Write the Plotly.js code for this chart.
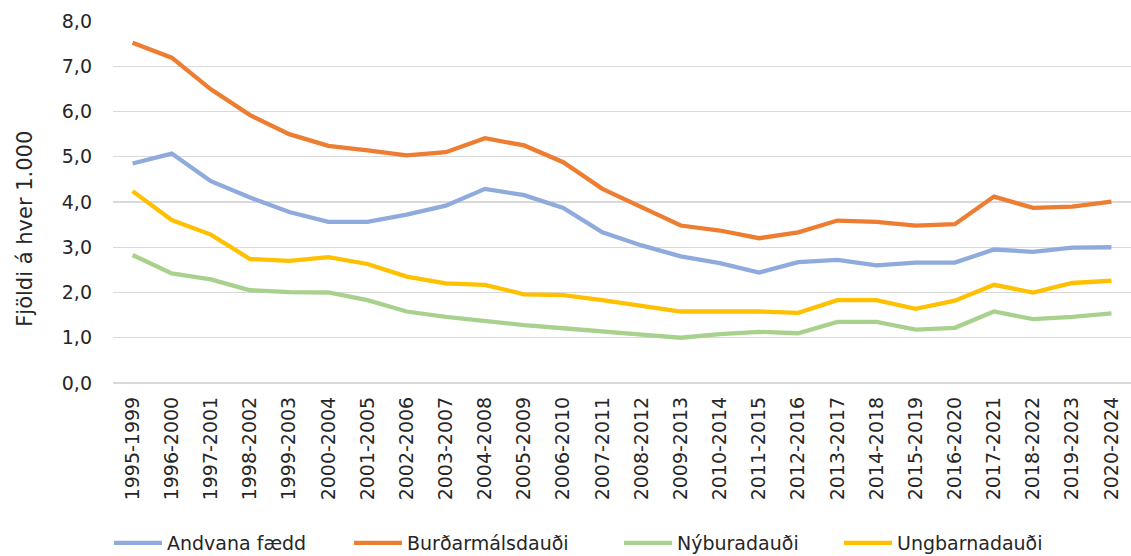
<!DOCTYPE html>
<html>
<head>
<meta charset="utf-8">
<script src="https://cdn.plot.ly/plotly-3.0.1.min.js"></script>
<style>
html,body{margin:0;padding:0;background:#fff;}
#chart{width:1131px;height:556px;}
</style>
</head>
<body>
<div id="chart"></div>
<script>
const categories = ["1995-1999","1996-2000","1997-2001","1998-2002","1999-2003","2000-2004","2001-2005","2002-2006","2003-2007","2004-2008","2005-2009","2006-2010","2007-2011","2008-2012","2009-2013","2010-2014","2011-2015","2012-2016","2013-2017","2014-2018","2015-2019","2016-2020","2017-2021","2018-2022","2019-2023","2020-2024"];

const andvanaFaedd = [4.85,5.07,4.46,4.10,3.78,3.56,3.56,3.72,3.92,4.29,4.15,3.87,3.33,3.04,2.80,2.65,2.44,2.67,2.72,2.60,2.66,2.66,2.95,2.90,2.99,3.00];
const burdarmalsdaudi = [7.52,7.19,6.49,5.92,5.50,5.24,5.14,5.03,5.10,5.41,5.25,4.88,4.29,3.89,3.48,3.37,3.20,3.33,3.59,3.56,3.48,3.51,4.12,3.87,3.90,4.01];
const nyburadaudi = [2.83,2.42,2.29,2.05,2.01,2.00,1.83,1.58,1.46,1.36,1.28,1.21,1.15,1.07,1.00,1.08,1.13,1.10,1.35,1.35,1.18,1.22,1.58,1.41,1.46,1.54];
const ungbarnadaudi = [4.24,3.60,3.28,2.74,2.70,2.78,2.63,2.35,2.20,2.17,1.96,1.94,1.83,1.71,1.58,1.58,1.58,1.55,1.83,1.83,1.64,1.82,2.17,2.00,2.21,2.26];

const seriesNames = ["Andvana fædd","Burðarmálsdauði","Nýburadauði","Ungbarnadauði"];
const seriesColors = ["#8FAADC","#ED7D31","#A9D18E","#FFC000"];
const seriesValues = [andvanaFaedd, burdarmalsdaudi, nyburadaudi, ungbarnadaudi];

const legendIds = ['legend', 'legend2', 'legend3', 'legend4'];
const legendLeft = [109, 349, 619, 839];

const traces = seriesValues.map((vals, i) => ({
  type: 'scatter',
  mode: 'lines',
  x: categories,
  y: vals,
  name: seriesNames[i],
  legend: legendIds[i],
  line: {color: seriesColors[i], width: 4.3}
}));

const FONT = '"DejaVu Sans", Verdana, sans-serif';
const PAD = '\u00a0'.repeat(8) + '\u200b';

const layout = {
  width: 1131,
  height: 556,
  separators: ',.',
  margin: {l: 113, r: 0, t: 21, b: 173},
  paper_bgcolor: '#fff',
  plot_bgcolor: '#fff',
  font: {family: FONT, size: 19, color: '#262626'},
  showlegend: true,
  xaxis: {
    type: 'category',
    automargin: false,
    tickangle: -90,
    showgrid: false,
    showline: false,
    zeroline: false,
    ticks: '',
    ticklabelstandoff: 9,
    tickfont: {family: FONT, size: 19, color: '#262626'},
    range: [-0.5, categories.length - 0.5]
  },
  yaxis: {
    automargin: false,
    range: [0, 8],
    dtick: 1,
    tick0: 0,
    tickformat: '.1f',
    showgrid: true,
    gridcolor: '#d9d9d9',
    gridwidth: 1.3,
    zeroline: true,
    zerolinecolor: '#d9d9d9',
    zerolinewidth: 1.3,
    showline: false,
    ticks: '',
    ticklabelstandoff: 20,
    tickfont: {family: FONT, size: 19, color: '#262626'},
    title: {text: 'Fjöldi á hver 1.000' + PAD, font: {family: FONT, size: 21, color: '#262626'}, standoff: 23}
  }
};

legendIds.forEach((id, i) => {
  layout[id] = {
    orientation: 'h',
    xref: 'container', yref: 'container',
    x: legendLeft[i] / 1131, xanchor: 'left',
    y: 13 / 556, yanchor: 'middle',
    font: {family: FONT, size: 19, color: '#262626'},
    bgcolor: 'rgba(0,0,0,0)',
    itemwidth: 48
  };
});

Plotly.newPlot('chart', traces, layout, {displayModeBar: false, staticPlot: true});
</script>
</body>
</html>
